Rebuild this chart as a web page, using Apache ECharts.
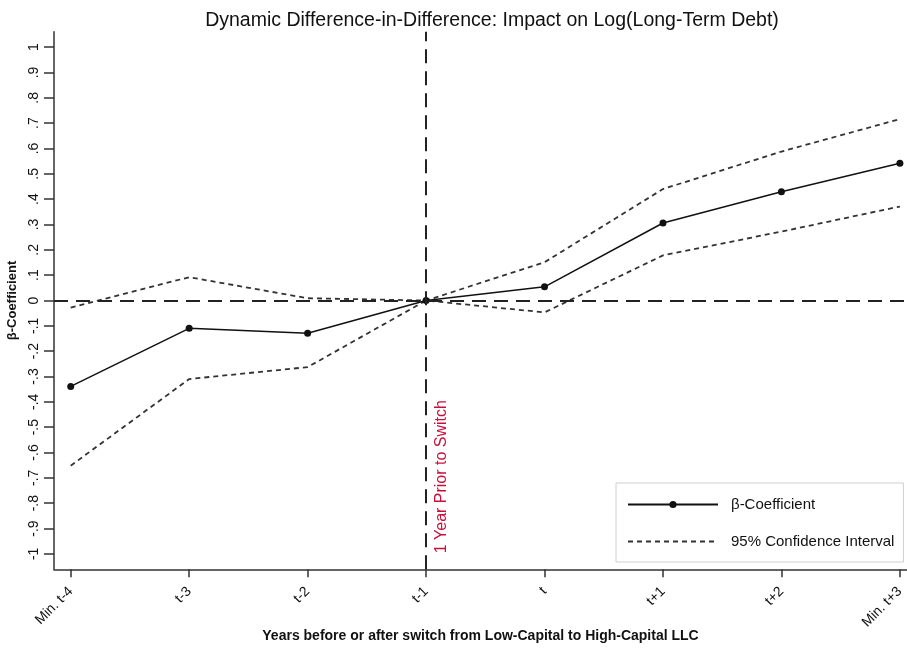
<!DOCTYPE html>
<html>
<head>
<meta charset="utf-8">
<script src="https://cdn.jsdelivr.net/npm/echarts@6/dist/echarts.min.js"></script>
<style>html,body{margin:0;padding:0;background:#fff;}#c{width:907px;height:651px;}</style>
</head>
<body>
<div id="c"></div>
<script>
var categories = ["Min. t-4", "t-3", "t-2", "t-1", "t", "t+1", "t+2", "Min. t+3"];
var beta = [-0.339, -0.110, -0.129, 0, 0.054, 0.306, 0.429, 0.542];
var upperCI = [-0.028, 0.092, 0.009, 0, 0.151, 0.440, 0.588, 0.716];
var lowerCI = [-0.652, -0.310, -0.263, 0, -0.047, 0.178, 0.272, 0.371];
var yTicks = [-1, -0.9, -0.8, -0.7, -0.6, -0.5, -0.4, -0.3, -0.2, -0.1, 0, 0.1, 0.2, 0.3, 0.4, 0.5, 0.6, 0.7, 0.8, 0.9, 1];
var yTickLabels = ["-1", "-.9", "-.8", "-.7", "-.6", "-.5", "-.4", "-.3", "-.2", "-.1", "0", ".1", ".2", ".3", ".4", ".5", ".6", ".7", ".8", ".9", "1"];
var xTicks = [0, 1, 2, 3, 4, 5, 6, 7];
var refIndex = 3;

function pairs(arr) { return arr.map(function (v, i) { return [i, v]; }); }

var font = 'Arial, "Liberation Sans", sans-serif';
var chart = echarts.init(document.getElementById('c'), null, { renderer: 'canvas' });
chart.setOption({
  animation: false,
  backgroundColor: '#fff',
  title: {
    text: 'Dynamic Difference-in-Difference: Impact on Log(Long-Term Debt)',
    left: 487, top: 6, textAlign: 'center',
    textStyle: { fontFamily: font, fontSize: 19.5, fontWeight: 'normal', color: '#111' }
  },
  legend: {
    left: 616, top: 483, orient: 'vertical',
    backgroundColor: '#fff', borderColor: '#d0d0d0', borderWidth: 1,
    padding: [14, 9, 13, 11], itemGap: 22, itemWidth: 90, itemHeight: 9,
    textStyle: { fontFamily: font, fontSize: 15, color: '#111', padding: [0, 0, 0, 8] },
    data: [
      { name: 'β-Coefficient' },
      { name: '95% Confidence Interval', itemStyle: { opacity: 0 } }
    ]
  },
  grid: { left: 54, right: 0, top: 31.7, bottom: 81.7, containLabel: false, outerBoundsMode: 'none' },
  xAxis: {
    type: 'value', min: -0.141, max: 7.06,
    name: 'Years before or after switch from Low-Capital to High-Capital LLC',
    nameLocation: 'middle', nameGap: 60, nameMoveOverlap: false,
    nameTextStyle: { fontFamily: font, fontSize: 14, fontWeight: 'bold', color: '#111' },
    axisLine: { onZero: false, lineStyle: { color: '#333', width: 1.5 } },
    axisTick: { show: true, length: 8, lineStyle: { color: '#333', width: 1.5 }, customValues: xTicks },
    axisLabel: {
      customValues: xTicks, rotate: 45, margin: 20,
      fontFamily: font, fontSize: 14, color: '#111',
      formatter: function (v) { return categories[Math.round(v)]; }
    },
    splitLine: { show: false }
  },
  yAxis: {
    type: 'value', min: -1.061, max: 1.061,
    name: 'β-Coefficient', nameLocation: 'middle', nameGap: 33, nameRotate: 90,
    nameTextStyle: { fontFamily: font, fontSize: 13, fontWeight: 'bold', color: '#111' },
    axisLine: { show: true, onZero: false, lineStyle: { color: '#333', width: 1.5 } },
    axisTick: { show: true, length: 10, lineStyle: { color: '#333', width: 1.5 }, customValues: yTicks },
    axisLabel: {
      customValues: yTicks, rotate: 90, margin: 13,
      fontFamily: font, fontSize: 14, color: '#111',
      formatter: function (v) {
        var i = yTicks.findIndex(function (t) { return Math.abs(t - v) < 1e-6; });
        return i >= 0 ? yTickLabels[i] : '';
      }
    },
    splitLine: { show: false }
  },
  series: [
    {
      name: '95% Confidence Interval', type: 'line', data: pairs(upperCI),
      symbol: 'none', lineStyle: { color: '#333', width: 1.8, type: [5, 4] },
      itemStyle: { color: '#333' },
      markLine: {
        silent: true, symbol: 'none',
        lineStyle: { color: '#222', width: 2, type: [14, 8] },
        data: [
          { yAxis: 0, label: { show: false } },
          { xAxis: refIndex, label: {
              show: true, formatter: '1 Year Prior to Switch', position: 'insideStartBottom',
              color: '#c8103a', fontFamily: font, fontSize: 16, distance: [16, 8] } }
        ]
      },
      z: 2
    },
    {
      name: '95% Confidence Interval', type: 'line', data: pairs(lowerCI),
      symbol: 'none', lineStyle: { color: '#333', width: 1.8, type: [5, 4] },
      itemStyle: { color: '#333' }, z: 2
    },
    {
      name: 'β-Coefficient', type: 'line', data: pairs(beta),
      symbol: 'circle', symbolSize: 7,
      lineStyle: { color: '#111', width: 1.5 },
      itemStyle: { color: '#111' }, z: 3
    }
  ]
});
</script>
</body>
</html>
